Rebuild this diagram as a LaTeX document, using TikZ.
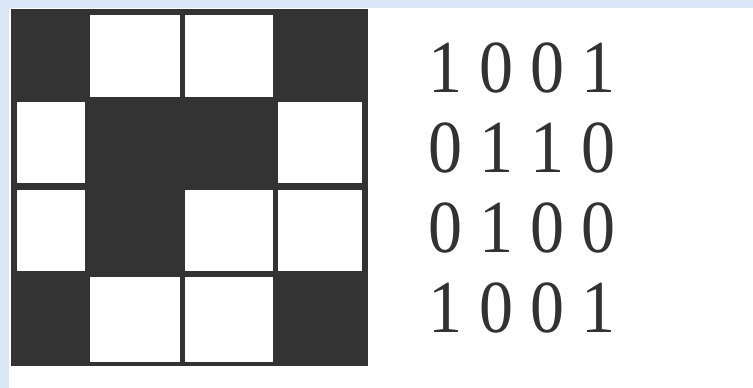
\documentclass[tikz,border=0pt]{standalone}
\usepackage{fontspec}
\newfontfamily\digitfont{Liberation Serif}
\definecolor{bgblue}{RGB}{216,230,245}
\definecolor{darkcell}{RGB}{51,51,51}
\definecolor{digitgray}{RGB}{50,50,50}
\begin{document}
\begin{tikzpicture}[x=1pt,y=-1pt,
  whitecell/.style={fill=white},
  digits/.style={anchor=base west,inner sep=0pt,text=digitgray,font=\digitfont\fontsize{68}{72}\selectfont}]
\useasboundingbox (0,0) rectangle (753,388);
% background
\fill[bgblue] (0,0) rectangle (753,388);
\fill[white] (9,8) rectangle (753,388);
% dark grid base
\fill[darkcell] (11,9) rectangle (368,366);
% white cells
% row 1
\fill[whitecell] (90,15) rectangle (180,97);
\fill[whitecell] (185,15) rectangle (273,97);
% row 2
\fill[whitecell] (17,102) rectangle (85,183);
\fill[whitecell] (278,102) rectangle (362,183);
% row 3
\fill[whitecell] (17,190) rectangle (85,271);
\fill[whitecell] (185,190) rectangle (273,271);
\fill[whitecell] (278,190) rectangle (362,271);
% row 4
\fill[whitecell] (90,277) rectangle (180,362);
\fill[whitecell] (185,277) rectangle (273,362);
% matrix text
\node[digits] (r1) at (428,92) {\scalebox{1}[1.1]{1 0 0 1}};
\node[digits] (r2) at (428,172) {\scalebox{1}[1.1]{0 1 1 0}};
\node[digits] (r3) at (428,252) {\scalebox{1}[1.1]{0 1 0 0}};
\node[digits] (r4) at (428,332) {\scalebox{1}[1.1]{1 0 0 1}};
\end{tikzpicture}
\end{document}
